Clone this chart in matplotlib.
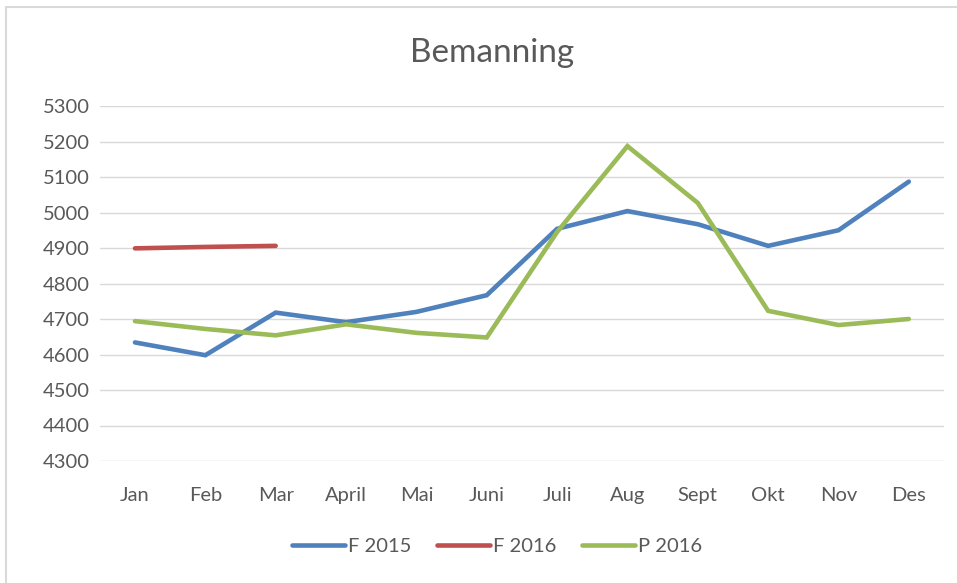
import numpy as np
import matplotlib.pyplot as plt
from matplotlib.patches import Rectangle

months = ['Jan', 'Feb', 'Mar', 'April', 'Mai', 'Juni', 'Juli', 'Aug', 'Sept', 'Okt', 'Nov', 'Des']
f2015 = [4634, 4598, 4718, 4691, 4720, 4767, 4954, 5004, 4967, 4906, 4950, 5087]
f2016 = [4899, 4903, 4906]
p2016 = [4694, 4672, 4654, 4685, 4661, 4648, 4945, 5187, 5027, 4723, 4683, 4700]
yticks = list(range(4300, 5301, 100))

plt.rcParams['font.family'] = ['Lato', 'DejaVu Sans']

W, H = 957, 583
fig = plt.figure(figsize=(W / 100, H / 100), dpi=100)
fig.patch.set_facecolor('white')

# chart border (light gray, like the excel chart frame)
fig.patches.append(Rectangle((6 / W, -0.05), 1.1, (H - 7) / H + 0.05, transform=fig.transFigure,
                             fill=False, edgecolor='#D9D9D9', linewidth=1.5))

left, right, top, bottom = 99.8, 944, 106, 461
ax = fig.add_axes([left / W, (H - bottom) / H, (right - left) / W, (bottom - top) / H])

x = np.arange(len(months))
lw = 3.3
ax.plot(x, f2015, color='#4F81BD', lw=lw, solid_capstyle='round', solid_joinstyle='miter', label='F 2015')
ax.plot(x[:len(f2016)], f2016, color='#C0504D', lw=lw, solid_capstyle='round', label='F 2016')
ax.plot(x, p2016, color='#9BBB59', lw=lw, solid_capstyle='round', solid_joinstyle='miter', label='P 2016')

ax.set_xlim(-0.5, len(months) - 0.5)
ax.set_ylim(4300, 5300)
ax.set_yticks(yticks)
ax.set_xticks(x)
ax.set_xticklabels(months)
ax.yaxis.grid(True, color='#D9D9D9', lw=1)
ax.set_axisbelow(True)
for s in ax.spines.values():
    s.set_visible(False)
ax.tick_params(length=0, labelsize=14.5, colors='#595959', pad=7)
ax.tick_params(axis='x', pad=19)

fig.text(492 / W, 1 - 53 / H, 'Bemanning', ha='center', va='center', fontsize=24, color='#595959')

fig.legend(loc='center', bbox_to_anchor=(497 / W, 1 - 546 / H), ncol=3, frameon=False,
           fontsize=14.5, labelcolor='#595959', handlelength=2.6, handletextpad=0.15, columnspacing=1.3)

fig.savefig('out.png', dpi=100)
